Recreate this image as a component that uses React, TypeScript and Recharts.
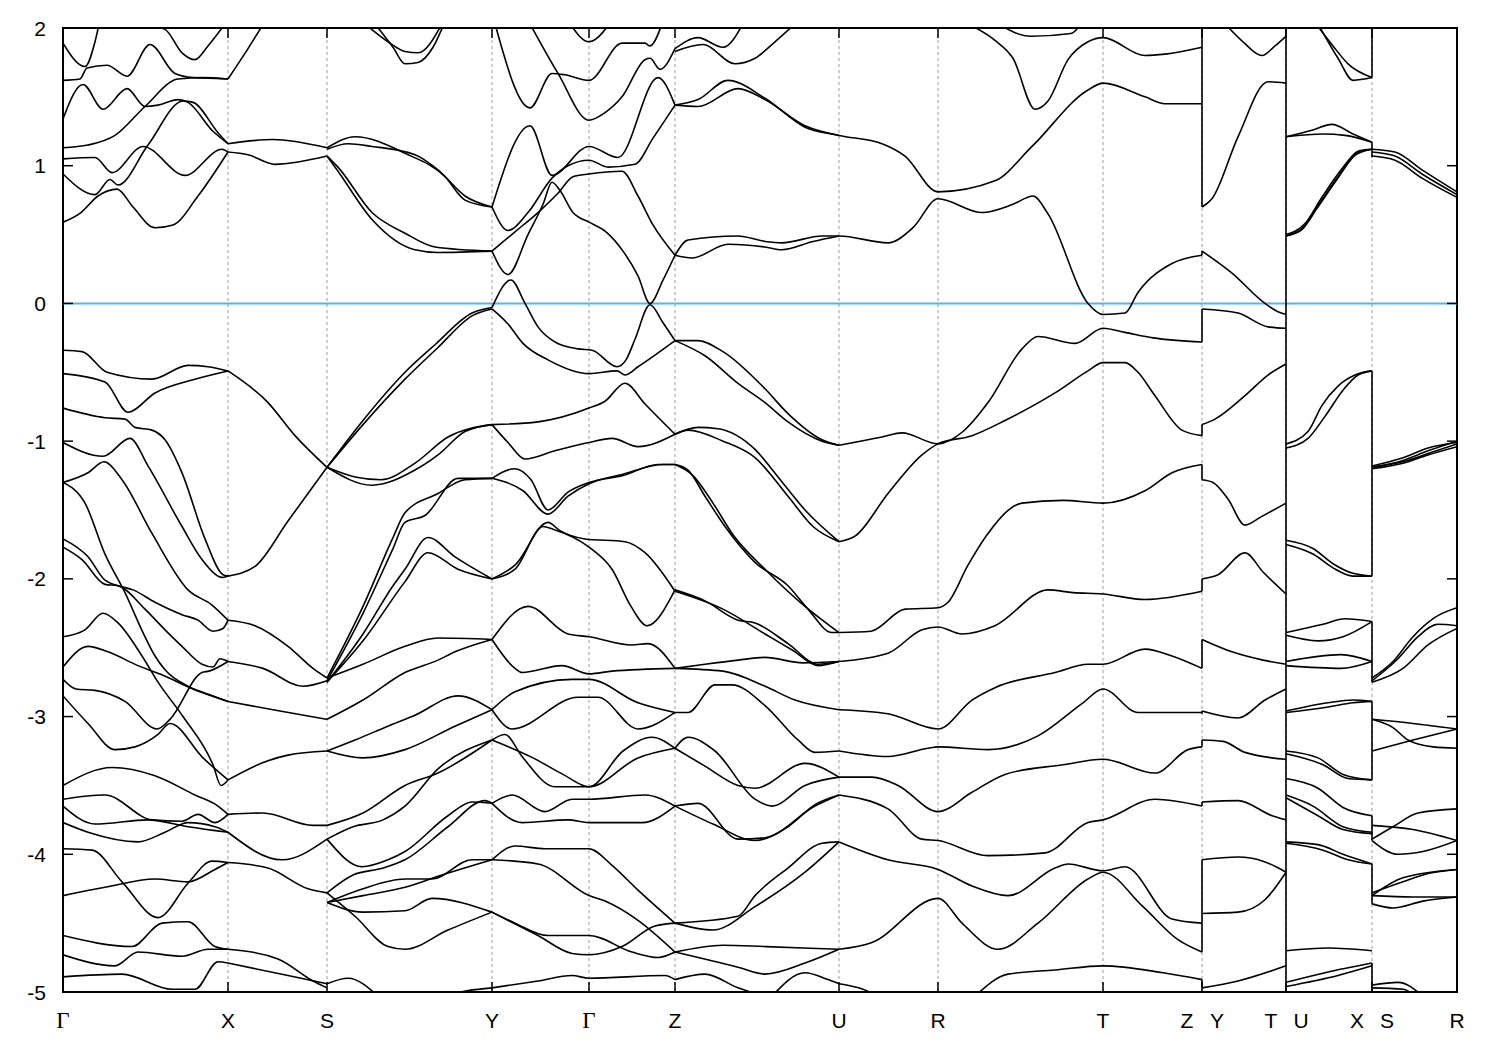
import { CartesianGrid, Line, LineChart, ReferenceArea, ReferenceLine, XAxis, YAxis } from "recharts";

type Pt = [number, number];

// k-path positions of the high-symmetry points and their labels
const kTicks = [0, 165, 264, 429, 526, 612, 776, 875, 1040, 1139, 1223, 1309, 1394];
const kLabels = ["Γ", "X", "S", "Y", "Γ", "Z", "U", "R", "T", "Z|Y", "T|U", "X|S", "R"];
const energyTicks = [-5, -4, -3, -2, -1, 0, 1, 2];

const gammaX: Pt[][] = [
  [[0, 1.89], [22, 1.72], [32, 1.9], [38, 2.1]],
  [[0, 1.62], [17, 1.63], [24, 1.71], [44, 1.73], [64, 1.65], [87, 1.88], [112, 1.67], [130, 1.64], [165, 1.63]],
  [[80, 2.03], [102, 1.99], [119, 1.82], [132, 1.77], [145, 1.87], [162, 2.03]],
  [[0, 1.34], [20, 1.59], [40, 1.41], [64, 1.56], [82, 1.43], [95, 1.44], [115, 1.48], [125, 1.46], [150, 1.25], [165, 1.16]],
  [[0, 1.13], [25, 1.15], [52, 1.22], [82, 1.43], [115, 1.63], [140, 1.64], [165, 1.63]],
  [[0, 1.05], [32, 1.06], [49, 0.95], [80, 1.14], [122, 0.93], [159, 1.12], [165, 1.1]],
  [[0, 0.94], [32, 0.79], [47, 0.9], [55, 0.86], [85, 1.15], [120, 1.47], [130, 1.46], [155, 1.24], [165, 1.16]],
  [[0, 0.59], [18, 0.66], [35, 0.78], [54, 0.83], [70, 0.7], [92, 0.55], [110, 0.57], [135, 0.78], [165, 1.1]],
  [[0, -0.34], [19, -0.35], [44, -0.5], [89, -0.55], [125, -0.45], [145, -0.46], [165, -0.49]],
  [[0, -0.51], [42, -0.57], [65, -0.79], [92, -0.65], [132, -0.55], [165, -0.49]],
  [[0, -0.76], [42, -0.83], [62, -0.84], [72, -0.9], [89, -0.92], [102, -0.99], [119, -1.23], [142, -1.71], [160, -1.97], [165, -1.98]],
  [[0, -1.01], [40, -1.11], [67, -0.98], [85, -1.18], [119, -1.62], [139, -1.86], [160, -1.99], [165, -1.98]],
  [[0, -1.3], [25, -1.23], [41, -1.15], [59, -1.28], [89, -1.67], [125, -2.08], [149, -2.19], [165, -2.3]],
  [[0, -1.3], [22, -1.45], [42, -1.82], [62, -2.1], [80, -2.39], [92, -2.56], [102, -2.66], [125, -2.78], [150, -2.85], [165, -2.89]],
  [[0, -1.71], [25, -1.84], [42, -2.01], [55, -2.05], [70, -2.08], [92, -2.17], [119, -2.26], [135, -2.3], [150, -2.38], [160, -2.36], [165, -2.3]],
  [[0, -1.77], [19, -1.86], [42, -2.04], [55, -2.05], [82, -2.22], [102, -2.37], [119, -2.49], [139, -2.62], [150, -2.64], [157, -2.58], [165, -2.6]],
  [[0, -2.42], [22, -2.37], [40, -2.25], [55, -2.32], [79, -2.56], [95, -2.75], [120, -3.0], [150, -3.35], [158, -3.5], [165, -3.46]],
  [[0, -2.64], [25, -2.49], [45, -2.53], [75, -2.63], [100, -2.7], [130, -2.8], [165, -2.89]],
  [[0, -2.73], [13, -2.8], [32, -2.81], [62, -2.89], [94, -3.09], [107, -3.02], [139, -2.68], [146, -2.67], [165, -2.6]],
  [[0, -2.85], [25, -3.05], [52, -3.24], [72, -3.22], [95, -3.13], [107, -3.05], [140, -3.3], [165, -3.46]],
  [[0, -3.5], [49, -3.37], [92, -3.43], [132, -3.57], [155, -3.65], [165, -3.71]],
  [[0, -3.6], [42, -3.57], [89, -3.75], [119, -3.76], [135, -3.71], [152, -3.77], [165, -3.71]],
  [[0, -3.65], [32, -3.78], [85, -3.75], [125, -3.8], [165, -3.84]],
  [[0, -3.77], [25, -3.84], [75, -3.91], [102, -3.84], [125, -3.77], [152, -3.8], [165, -3.84]],
  [[0, -3.96], [29, -3.97], [59, -4.2], [95, -4.46], [125, -4.21], [149, -4.05], [165, -4.06]],
  [[0, -4.3], [42, -4.24], [92, -4.18], [125, -4.2], [152, -4.11], [165, -4.06]],
  [[0, -4.59], [69, -4.67], [99, -4.5], [125, -4.49], [152, -4.67], [165, -4.69]],
  [[0, -4.73], [52, -4.81], [75, -4.71], [119, -4.74], [145, -4.69], [165, -4.69]],
  [[0, -4.89], [59, -4.87], [109, -4.98], [132, -4.98], [155, -4.78], [165, -4.79]],
];

const xS: Pt[][] = [
  [[165, 1.63], [185, 1.85], [202, 2.05]],
  [[165, 1.16], [210, 1.19], [264, 1.13]],
  [[165, 1.1], [185, 1.08], [212, 1.01], [264, 1.07]],
  [[165, -0.49], [205, -0.72], [232, -0.96], [264, -1.19]],
  [[165, -1.98], [192, -1.91], [225, -1.58], [264, -1.19]],
  [[165, -2.3], [192, -2.34], [225, -2.49], [250, -2.65], [264, -2.72]],
  [[165, -2.6], [200, -2.65], [240, -2.78], [264, -2.74]],
  [[165, -2.89], [210, -2.95], [264, -3.02]],
  [[165, -3.46], [205, -3.32], [225, -3.28], [264, -3.25]],
  [[165, -3.71], [200, -3.7], [250, -3.79], [264, -3.79]],
  [[165, -3.84], [219, -4.04], [264, -3.89]],
  [[165, -4.06], [205, -4.1], [245, -4.25], [264, -4.28]],
  [[165, -4.69], [215, -4.76], [250, -4.92], [264, -4.97]],
  [[165, -4.79], [225, -4.88], [264, -4.94]],
];

const sY: Pt[][] = [
  [[302, 2.03], [325, 1.9], [342, 1.83], [355, 1.82], [379, 2.03]],
  [[312, 2.03], [330, 1.86], [342, 1.74], [355, 1.75], [370, 1.86], [381, 2.03]],
  [[264, 1.13], [292, 1.21], [342, 1.09], [382, 0.92], [402, 0.75], [429, 0.7]],
  [[264, 1.12], [285, 1.16], [309, 1.14], [352, 1.08], [375, 0.97], [402, 0.78], [429, 0.7]],
  [[264, 1.07], [275, 0.99], [309, 0.66], [342, 0.51], [372, 0.41], [429, 0.38]],
  [[264, 1.07], [275, 0.96], [309, 0.61], [352, 0.39], [375, 0.37], [429, 0.38]],
  [[264, -1.19], [300, -0.85], [342, -0.5], [372, -0.3], [409, -0.07], [429, -0.03]],
  [[264, -1.19], [300, -0.88], [342, -0.55], [375, -0.32], [409, -0.09], [429, -0.04]],
  [[264, -1.19], [292, -1.26], [318, -1.28], [352, -1.16], [385, -0.97], [429, -0.88]],
  [[264, -1.19], [309, -1.32], [352, -1.21], [375, -1.1], [402, -0.93], [429, -0.88]],
  [[264, -2.72], [300, -2.2], [330, -1.7], [342, -1.52], [375, -1.38], [402, -1.28], [429, -1.27]],
  [[264, -2.74], [300, -2.25], [330, -1.78], [342, -1.59], [362, -1.54], [395, -1.27], [429, -1.27]],
  [[264, -2.75], [300, -2.4], [330, -2.05], [342, -1.93], [365, -1.7], [392, -1.84], [429, -2.0]],
  [[264, -2.75], [300, -2.45], [342, -2.02], [365, -1.81], [395, -1.93], [429, -2.0]],
  [[264, -3.02], [300, -2.88], [342, -2.68], [375, -2.59], [392, -2.53], [429, -2.44]],
  [[264, -2.72], [300, -2.62], [342, -2.49], [375, -2.43], [429, -2.44]],
  [[264, -3.25], [292, -3.17], [325, -3.07], [352, -2.99], [395, -2.85], [429, -2.95]],
  [[264, -3.25], [300, -3.3], [342, -3.24], [392, -3.07], [429, -2.95]],
  [[264, -3.79], [300, -3.7], [342, -3.5], [375, -3.41], [429, -3.17]],
  [[264, -3.89], [290, -3.8], [320, -3.75], [342, -3.65], [375, -3.38], [429, -3.17]],
  [[264, -3.89], [299, -4.09], [325, -4.04], [342, -3.98], [385, -3.72], [409, -3.62], [429, -3.63]],
  [[264, -4.28], [290, -4.15], [320, -4.1], [342, -4.04], [385, -3.8], [422, -3.61], [429, -3.63]],
  [[264, -4.35], [300, -4.25], [342, -4.18], [369, -4.18], [409, -4.04], [429, -4.04]],
  [[264, -4.35], [300, -4.3], [342, -4.24], [375, -4.16], [429, -4.04]],
  [[264, -4.28], [292, -4.45], [325, -4.67], [342, -4.69], [385, -4.55], [429, -4.42]],
  [[264, -4.35], [300, -4.42], [342, -4.41], [369, -4.32], [429, -4.42]],
  [[264, -4.94], [285, -4.9], [315, -5.03]],
  [[380, -5.03], [405, -4.99], [429, -4.97]],
];

const yGammaZ: Pt[][] = [
  [[432, 2.03], [467, 1.42], [489, 1.67], [502, 1.66], [526, 1.62], [559, 1.89], [582, 1.89], [587, 1.87], [599, 2.03]],
  [[467, 2.03], [495, 1.67], [526, 1.33], [541, 1.38], [559, 1.5], [582, 1.77], [587, 1.78], [597, 1.7], [612, 1.85]],
  [[507, 2.03], [526, 1.9], [540, 1.97], [546, 2.03]],
  [[429, 0.7], [467, 1.29], [489, 0.93], [526, 1.14], [555, 1.06], [595, 1.64], [612, 1.44]],
  [[429, 0.7], [445, 0.53], [465, 0.66], [489, 0.91], [505, 1.0], [526, 1.04], [545, 0.99], [572, 1.01], [590, 1.2], [612, 1.44]],
  [[429, 0.38], [452, 0.52], [475, 0.66], [495, 0.8], [510, 0.92], [526, 0.94], [559, 0.96], [575, 0.78], [590, 0.57], [612, 0.35]],
  [[429, 0.38], [445, 0.21], [465, 0.5], [480, 0.72], [489, 0.88], [497, 0.82], [510, 0.66], [526, 0.59], [543, 0.52], [560, 0.38], [575, 0.2], [587, 0.0], [600, 0.17], [612, 0.35]],
  [[429, -0.03], [448, 0.17], [462, 0.0], [475, -0.17], [492, -0.28], [515, -0.33], [529, -0.34], [554, -0.46], [563, -0.41], [572, -0.26], [587, -0.01], [600, -0.14], [612, -0.27]],
  [[429, -0.04], [445, -0.15], [460, -0.29], [485, -0.41], [526, -0.51], [554, -0.49], [562, -0.52], [575, -0.46], [612, -0.27]],
  [[429, -0.88], [475, -0.86], [526, -0.76], [542, -0.71], [562, -0.58], [582, -0.73], [612, -0.95]],
  [[429, -0.88], [445, -1.01], [462, -1.13], [492, -1.07], [526, -1.01], [549, -0.98], [575, -1.04], [612, -0.95]],
  [[429, -1.27], [452, -1.2], [468, -1.28], [485, -1.5], [505, -1.37], [526, -1.3], [560, -1.25], [595, -1.17], [612, -1.17]],
  [[429, -1.27], [460, -1.36], [485, -1.53], [505, -1.4], [526, -1.31], [560, -1.24], [600, -1.17], [612, -1.17]],
  [[429, -2.0], [452, -1.9], [485, -1.59], [497, -1.65], [522, -1.71], [562, -1.73], [582, -1.81], [612, -2.09]],
  [[429, -2.0], [452, -1.93], [480, -1.62], [490, -1.64], [526, -1.77], [549, -1.93], [568, -2.2], [584, -2.34], [612, -2.08]],
  [[429, -2.44], [465, -2.2], [505, -2.4], [526, -2.42], [569, -2.48], [585, -2.47], [612, -2.65]],
  [[429, -2.44], [452, -2.65], [459, -2.68], [499, -2.63], [526, -2.69], [549, -2.67], [612, -2.65]],
  [[429, -2.95], [449, -3.09], [515, -2.86], [535, -2.86], [575, -3.09], [612, -2.97]],
  [[429, -2.95], [452, -2.82], [509, -2.73], [526, -2.73], [575, -2.9], [612, -2.97]],
  [[429, -3.17], [442, -3.13], [459, -3.29], [492, -3.51], [526, -3.51], [560, -3.25], [589, -3.15], [612, -3.23]],
  [[429, -3.17], [470, -3.3], [500, -3.42], [526, -3.51], [575, -3.3], [612, -3.23]],
  [[429, -3.63], [449, -3.57], [482, -3.69], [509, -3.6], [526, -3.6], [582, -3.57], [612, -3.65]],
  [[429, -3.63], [459, -3.77], [505, -3.75], [526, -3.77], [579, -3.77], [612, -3.65]],
  [[429, -4.04], [452, -3.94], [482, -3.96], [526, -3.96], [549, -4.08], [575, -4.26], [612, -4.5]],
  [[429, -4.04], [475, -4.07], [526, -4.3], [542, -4.34], [575, -4.48], [612, -4.71]],
  [[429, -4.42], [475, -4.59], [509, -4.72], [526, -4.73], [559, -4.67], [592, -4.52], [612, -4.5]],
  [[429, -4.42], [452, -4.5], [485, -4.59], [526, -4.59], [569, -4.71], [595, -4.75], [612, -4.71]],
  [[429, -4.97], [475, -4.92], [509, -4.88], [526, -4.9], [602, -4.88], [612, -4.91]],
];

const zU: Pt[][] = [
  [[612, 1.85], [635, 1.93], [660, 1.86], [680, 2.03]],
  [[612, 1.83], [640, 1.88], [672, 1.74], [692, 1.78], [712, 1.9], [732, 2.03]],
  [[612, 1.44], [635, 1.43], [675, 1.56], [702, 1.48], [742, 1.29], [776, 1.22]],
  [[612, 0.35], [629, 0.33], [665, 0.43], [702, 0.41], [719, 0.39], [750, 0.45], [776, 0.49]],
  [[612, -0.27], [642, -0.38], [675, -0.58], [702, -0.72], [725, -0.86], [759, -1.0], [776, -1.03]],
  [[612, -0.27], [635, -0.27], [660, -0.35], [702, -0.62], [725, -0.8], [759, -0.99], [776, -1.03]],
  [[612, -0.95], [635, -0.9], [655, -0.91], [692, -1.06], [715, -1.26], [742, -1.5], [776, -1.73]],
  [[612, -0.95], [625, -0.92], [660, -1.0], [692, -1.12], [725, -1.4], [750, -1.62], [776, -1.73]],
  [[612, -1.17], [625, -1.21], [642, -1.4], [662, -1.62], [692, -1.88], [725, -2.05], [745, -2.22], [769, -2.39], [776, -2.39]],
  [[612, -1.17], [630, -1.25], [650, -1.45], [670, -1.68], [702, -1.93], [742, -2.2], [776, -2.39]],
  [[612, -2.08], [642, -2.16], [675, -2.3], [692, -2.32], [725, -2.47], [755, -2.62], [776, -2.6]],
  [[612, -2.09], [660, -2.22], [702, -2.4], [730, -2.52], [755, -2.63], [776, -2.6]],
  [[612, -2.65], [642, -2.62], [675, -2.59], [702, -2.57], [740, -2.61], [776, -2.6]],
  [[612, -2.65], [660, -2.67], [702, -2.78], [732, -2.88], [776, -2.95]],
  [[612, -2.97], [625, -2.97], [652, -2.77], [669, -2.77], [702, -2.92], [735, -3.17], [752, -3.26], [776, -3.25]],
  [[612, -3.23], [642, -3.36], [675, -3.5], [692, -3.52], [742, -3.34], [776, -3.44]],
  [[612, -3.23], [625, -3.15], [652, -3.25], [692, -3.6], [709, -3.65], [742, -3.5], [776, -3.44]],
  [[612, -3.65], [635, -3.63], [675, -3.89], [702, -3.88], [752, -3.65], [776, -3.57]],
  [[612, -3.65], [650, -3.78], [692, -3.9], [725, -3.8], [752, -3.64], [776, -3.57]],
  [[612, -4.5], [675, -4.45], [692, -4.3], [725, -4.1], [759, -3.92], [776, -3.91]],
  [[612, -4.5], [650, -4.55], [692, -4.38], [742, -4.13], [776, -3.91]],
  [[612, -4.71], [660, -4.66], [702, -4.67], [740, -4.68], [776, -4.69]],
  [[612, -4.71], [675, -4.82], [702, -4.87], [742, -4.79], [776, -4.69]],
  [[612, -4.91], [642, -4.87], [675, -4.97], [700, -5.03]],
  [[709, -5.03], [742, -4.86], [765, -4.91], [776, -4.94]],
];

const uRTZ: Pt[][] = [
  [[612, 1.44], [635, 1.48], [665, 1.62], [702, 1.49], [742, 1.28], [776, 1.22], [819, 1.16], [842, 1.07], [875, 0.81], [932, 0.89], [969, 1.14], [1025, 1.55], [1040, 1.6], [1082, 1.5], [1102, 1.45], [1139, 1.45]],
  [[612, 0.35], [625, 0.46], [675, 0.49], [702, 0.45], [719, 0.44], [759, 0.49], [776, 0.49], [825, 0.44], [850, 0.55], [875, 0.76], [919, 0.66], [950, 0.72], [970, 0.78], [985, 0.65], [1025, 0.0], [1040, -0.08], [1062, -0.07], [1075, 0.08], [1109, 0.29], [1139, 0.35]],
  [[905, 2.03], [932, 1.91], [950, 1.78], [972, 1.41], [985, 1.47], [1005, 1.77], [1025, 1.9], [1040, 1.93], [1082, 1.8], [1102, 1.81], [1139, 1.86]],
  [[935, 2.03], [968, 1.94], [1008, 1.96], [1018, 2.03]],
  [[776, -1.03], [819, -0.97], [839, -0.94], [875, -1.02], [900, -0.93], [925, -0.72], [959, -0.33], [975, -0.24], [1012, -0.29], [1040, -0.18], [1062, -0.21], [1090, -0.25], [1139, -0.28]],
  [[776, -1.73], [792, -1.69], [825, -1.38], [859, -1.1], [875, -1.02], [909, -0.96], [942, -0.85], [992, -0.65], [1025, -0.49], [1040, -0.43], [1062, -0.43], [1075, -0.5], [1092, -0.67], [1119, -0.92], [1139, -0.96]],
  [[776, -2.39], [808, -2.38], [842, -2.22], [875, -2.21], [885, -2.17], [905, -1.9], [925, -1.67], [959, -1.45], [1000, -1.43], [1040, -1.45], [1082, -1.36], [1109, -1.23], [1139, -1.17]],
  [[776, -2.6], [825, -2.54], [859, -2.37], [875, -2.35], [899, -2.4], [932, -2.34], [985, -2.08], [1010, -2.1], [1040, -2.11], [1082, -2.15], [1139, -2.09]],
  [[776, -2.95], [825, -2.98], [875, -3.09], [909, -2.88], [932, -2.79], [992, -2.68], [1025, -2.62], [1040, -2.62], [1082, -2.51], [1109, -2.56], [1139, -2.65]],
  [[776, -3.25], [825, -3.29], [865, -3.23], [875, -3.22], [925, -3.24], [975, -3.14], [1020, -2.9], [1040, -2.8], [1075, -2.97], [1139, -2.97]],
  [[776, -3.44], [809, -3.44], [835, -3.5], [875, -3.69], [909, -3.55], [942, -3.42], [1000, -3.35], [1040, -3.31], [1092, -3.41], [1125, -3.24], [1139, -3.22]],
  [[776, -3.57], [825, -3.67], [859, -3.89], [875, -3.9], [925, -4.01], [982, -3.99], [1025, -3.77], [1040, -3.75], [1092, -3.6], [1139, -3.65]],
  [[776, -3.91], [825, -4.04], [875, -4.11], [909, -4.23], [945, -4.3], [992, -4.1], [1005, -4.07], [1040, -4.12], [1062, -4.09], [1109, -4.47], [1139, -4.5]],
  [[776, -4.69], [809, -4.64], [875, -4.32], [899, -4.5], [935, -4.69], [975, -4.5], [1025, -4.18], [1040, -4.13], [1080, -4.38], [1115, -4.62], [1139, -4.71]],
  [[912, -5.03], [945, -4.87], [992, -4.84], [1040, -4.81], [1100, -4.86], [1139, -4.91]],
  [[776, -4.94], [800, -4.98], [815, -5.03]],
];

const yT: Pt[][] = [
  [[1139, 0.7], [1149, 0.76], [1175, 1.21], [1205, 1.61], [1223, 1.6]],
  [[1162, 2.03], [1180, 1.9], [1199, 1.8], [1212, 1.87], [1223, 1.94]],
  [[1139, 0.38], [1169, 0.22], [1202, 0.0], [1215, -0.06], [1223, -0.08]],
  [[1139, -0.04], [1175, -0.07], [1205, -0.17], [1223, -0.18]],
  [[1139, -0.88], [1152, -0.84], [1182, -0.67], [1205, -0.52], [1223, -0.44]],
  [[1139, -1.28], [1150, -1.3], [1165, -1.42], [1182, -1.61], [1198, -1.55], [1223, -1.45]],
  [[1139, -2.0], [1155, -1.97], [1182, -1.81], [1200, -1.95], [1223, -2.11]],
  [[1139, -2.44], [1169, -2.53], [1200, -2.59], [1223, -2.62]],
  [[1139, -2.96], [1175, -3.01], [1202, -2.88], [1223, -2.8]],
  [[1139, -3.17], [1160, -3.18], [1182, -3.26], [1223, -3.31]],
  [[1139, -3.62], [1175, -3.61], [1209, -3.72], [1223, -3.75]],
  [[1139, -4.04], [1175, -4.02], [1200, -4.05], [1223, -4.13]],
  [[1139, -4.43], [1175, -4.42], [1202, -4.33], [1223, -4.13]],
  [[1139, -4.97], [1175, -4.92], [1223, -4.81]],
];

const uX: Pt[][] = [
  [[1255, 2.03], [1275, 1.78], [1290, 1.62], [1309, 1.64]],
  [[1253, 2.03], [1270, 1.87], [1285, 1.74], [1309, 1.64]],
  [[1223, 1.21], [1250, 1.26], [1269, 1.3], [1290, 1.23], [1309, 1.17]],
  [[1223, 1.21], [1260, 1.23], [1282, 1.22], [1309, 1.17]],
  [[1223, 0.49], [1240, 0.55], [1256, 0.72], [1275, 0.92], [1295, 1.1], [1309, 1.12]],
  [[1223, 0.5], [1242, 0.58], [1258, 0.76], [1277, 0.96], [1297, 1.11], [1309, 1.12]],
  [[1223, 0.49], [1238, 0.53], [1254, 0.69], [1273, 0.89], [1293, 1.08], [1309, 1.12]],
  [[1223, -1.02], [1245, -0.93], [1259, -0.74], [1275, -0.6], [1292, -0.52], [1309, -0.49]],
  [[1223, -1.05], [1245, -0.98], [1262, -0.82], [1280, -0.63], [1295, -0.52], [1309, -0.49]],
  [[1223, -1.72], [1250, -1.78], [1270, -1.89], [1290, -1.96], [1309, -1.98]],
  [[1223, -1.75], [1250, -1.82], [1270, -1.92], [1290, -1.98], [1309, -1.98]],
  [[1223, -2.39], [1260, -2.33], [1282, -2.29], [1309, -2.31]],
  [[1223, -2.41], [1255, -2.45], [1280, -2.42], [1309, -2.31]],
  [[1223, -2.6], [1278, -2.55], [1309, -2.6]],
  [[1223, -2.63], [1278, -2.65], [1309, -2.6]],
  [[1223, -2.96], [1265, -2.9], [1290, -2.88], [1309, -2.89]],
  [[1223, -2.97], [1265, -2.93], [1290, -2.9], [1309, -2.89]],
  [[1223, -3.25], [1255, -3.3], [1280, -3.42], [1309, -3.46]],
  [[1223, -3.27], [1260, -3.35], [1285, -3.45], [1309, -3.46]],
  [[1223, -3.45], [1255, -3.52], [1280, -3.66], [1309, -3.72]],
  [[1223, -3.57], [1250, -3.65], [1280, -3.8], [1309, -3.84]],
  [[1223, -3.59], [1255, -3.72], [1280, -3.82], [1309, -3.85]],
  [[1223, -3.91], [1255, -3.93], [1280, -4.0], [1309, -4.07]],
  [[1223, -3.92], [1260, -3.97], [1285, -4.04], [1309, -4.07]],
  [[1223, -4.7], [1265, -4.68], [1309, -4.7]],
  [[1223, -4.93], [1262, -4.86], [1309, -4.79]],
  [[1223, -4.96], [1275, -4.88], [1309, -4.81]],
];

const sR: Pt[][] = [
  [[1309, 1.12], [1332, 1.1], [1359, 0.97], [1394, 0.81]],
  [[1309, 1.1], [1332, 1.07], [1359, 0.94], [1394, 0.79]],
  [[1309, 1.07], [1332, 1.04], [1359, 0.91], [1394, 0.77]],
  [[1309, -1.19], [1340, -1.14], [1365, -1.07], [1394, -1.0]],
  [[1309, -1.19], [1340, -1.15], [1365, -1.09], [1394, -1.02]],
  [[1309, -1.2], [1340, -1.16], [1365, -1.1], [1394, -1.04]],
  [[1309, -1.18], [1340, -1.12], [1365, -1.05], [1394, -1.01]],
  [[1309, -2.72], [1330, -2.6], [1350, -2.42], [1372, -2.28], [1394, -2.21]],
  [[1309, -2.74], [1335, -2.58], [1355, -2.42], [1375, -2.33], [1394, -2.34]],
  [[1309, -2.75], [1340, -2.65], [1365, -2.48], [1394, -2.36]],
  [[1309, -3.02], [1350, -3.05], [1394, -3.09]],
  [[1309, -3.02], [1330, -3.08], [1345, -3.17], [1370, -3.22], [1394, -3.23]],
  [[1309, -3.25], [1350, -3.17], [1394, -3.09]],
  [[1309, -3.79], [1350, -3.82], [1394, -3.9]],
  [[1309, -3.89], [1330, -3.8], [1355, -3.7], [1394, -3.67]],
  [[1309, -3.9], [1335, -4.0], [1360, -3.98], [1394, -3.9]],
  [[1309, -4.28], [1340, -4.2], [1365, -4.14], [1394, -4.11]],
  [[1309, -4.3], [1340, -4.17], [1394, -4.11]],
  [[1309, -4.3], [1350, -4.31], [1394, -4.31]],
  [[1309, -4.36], [1330, -4.39], [1360, -4.34], [1394, -4.31]],
  [[1309, -4.95], [1335, -4.93], [1360, -5.03]],
  [[1309, -4.97], [1340, -4.98], [1355, -5.05]],
];

// vertical jumps where the path is discontinuous (Z|Y, T|U, X|S)
const jumps: { k: number; from: number; to: number }[] = [
  { k: 1139, from: 0.7, to: 2.03 },
  { k: 1139, from: 0.35, to: 0.38 },
  { k: 1139, from: -0.28, to: -0.04 },
  { k: 1139, from: -0.96, to: -0.88 },
  { k: 1139, from: -1.28, to: -1.17 },
  { k: 1139, from: -2.09, to: -2.0 },
  { k: 1139, from: -2.65, to: -2.44 },
  { k: 1139, from: -2.98, to: -2.96 },
  { k: 1139, from: -3.22, to: -3.17 },
  { k: 1139, from: -3.65, to: -3.62 },
  { k: 1139, from: -4.71, to: -4.04 },
  { k: 1139, from: -4.97, to: -4.91 },
  { k: 1223, from: -5.03, to: 2.03 },
  { k: 1309, from: 1.64, to: 2.03 },
  { k: 1309, from: 1.06, to: 1.17 },
  { k: 1309, from: -1.98, to: -0.49 },
  { k: 1309, from: -2.75, to: -2.31 },
  { k: 1309, from: -3.46, to: -2.89 },
  { k: 1309, from: -3.9, to: -3.72 },
  { k: 1309, from: -4.36, to: -4.07 },
  { k: 1309, from: -5.03, to: -4.79 },
];

const bands = [...gammaX, ...xS, ...sY, ...yGammaZ, ...zU, ...uRTZ, ...yT, ...uX, ...sR].map((line) =>
  line.map(([k, e]) => ({ k, e })),
);
const jumpLines = jumps.map((j) => [
  { k: j.k, e: j.from },
  { k: j.k, e: j.to },
]);

const PLOT_W = 1394;
const PLOT_H = 964;
const FONT = "'Liberation Sans', Arial, sans-serif";

function EnergyTick(props: any) {
  const { x, y, payload } = props;
  return (
    <g>
      <line x1={x} x2={x + 10} y1={y} y2={y} stroke="#000" strokeWidth={1.5} />
      <line x1={x + PLOT_W - 10} x2={x + PLOT_W} y1={y} y2={y} stroke="#000" strokeWidth={1.5} />
      <text x={x - 17} y={y} dy="0.36em" textAnchor="end" fontSize={21} fontFamily={FONT} fill="#000">
        {payload.value}
      </text>
    </g>
  );
}

function PathTick(props: any) {
  const { x, y, payload } = props;
  const label = kLabels[kTicks.indexOf(payload.value)] ?? "";
  const parts = label.split("|");
  const fam = (s: string) => (s === "Γ" ? "'Liberation Serif', 'DejaVu Serif', serif" : FONT);
  return (
    <g>
      <line x1={x} x2={x} y1={y} y2={y - 10} stroke="#000" strokeWidth={1.5} />
      <line x1={x} x2={x} y1={y - PLOT_H} y2={y - PLOT_H + 10} stroke="#000" strokeWidth={1.5} />
      {parts.map((p, i) => (
        <text
          key={i}
          x={parts.length === 1 ? x : x + (i === 0 ? -15 : 15)}
          y={y + 36}
          textAnchor="middle"
          fontSize={p === "Γ" ? 23 : 21}
          fontFamily={fam(p)}
          fill="#000"
        >
          {p}
        </text>
      ))}
    </g>
  );
}

export default function App() {
  return (
    <div style={{ position: "absolute", left: 0, top: 0, width: 1500, height: 1050, background: "#fff" }}>
      <LineChart width={1500} height={1050} margin={{ top: 28, right: 43, bottom: 28, left: 13 }}>
        <CartesianGrid horizontal={false} stroke="#9a9a9a" strokeDasharray="3 3" />
        <XAxis
          type="number"
          dataKey="k"
          domain={[0, 1394]}
          ticks={kTicks}
          interval={0}
          height={30}
          axisLine={false}
          tickLine={false}
          tickSize={0}
          tickMargin={0}
          tick={<PathTick />}
          allowDataOverflow
        />
        <YAxis
          type="number"
          domain={[-5, 2]}
          ticks={energyTicks}
          interval={0}
          width={50}
          axisLine={false}
          tickLine={false}
          tickSize={0}
          tickMargin={0}
          tick={<EnergyTick />}
          allowDataOverflow
        />
        <ReferenceLine y={0} stroke="#56b4e9" strokeWidth={2} />
        {bands.map((pts, i) => (
          <Line
            key={"b" + i}
            data={pts}
            dataKey="e"
            type="monotone"
            stroke="#000"
            strokeWidth={1.6}
            dot={false}
            activeDot={false}
            isAnimationActive={false}
          />
        ))}
        {jumpLines.map((pts, i) => (
          <Line
            key={"j" + i}
            data={pts}
            dataKey="e"
            type="linear"
            stroke="#000"
            strokeWidth={1.6}
            dot={false}
            activeDot={false}
            isAnimationActive={false}
          />
        ))}
        <ReferenceArea x1={0} x2={1394} y1={-5} y2={2} fill="none" stroke="#000" strokeWidth={2} ifOverflow="visible" />
      </LineChart>
    </div>
  );
}
